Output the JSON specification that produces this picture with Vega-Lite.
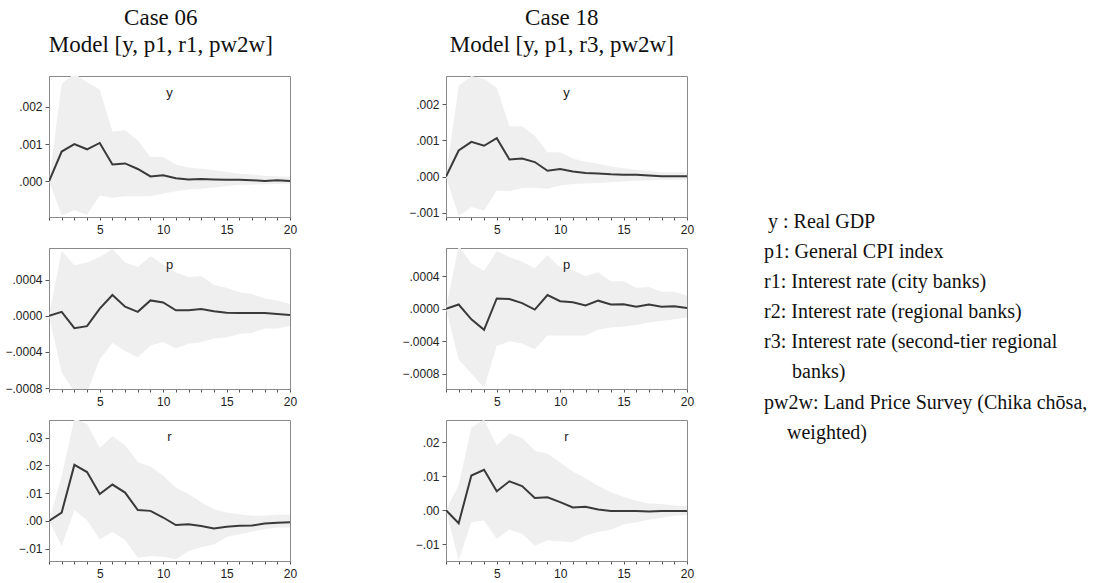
{
  "$schema": "https://vega.github.io/schema/vega-lite/v6.json",
  "padding": {"left": 4, "top": 6, "right": 0, "bottom": 0},
  "background": "white",
  "datasets": {
    "irf": [
      {"c":"06","v":"y","h":1,"irf":0,"lo":0,"hi":0},
      {"c":"06","v":"y","h":2,"irf":0.0008,"lo":-0.00092,"hi":0.00262},
      {"c":"06","v":"y","h":3,"irf":0.001,"lo":-0.00078,"hi":0.0029},
      {"c":"06","v":"y","h":4,"irf":0.00086,"lo":-0.0009,"hi":0.00266},
      {"c":"06","v":"y","h":5,"irf":0.00103,"lo":-0.00038,"hi":0.00246},
      {"c":"06","v":"y","h":6,"irf":0.00045,"lo":-0.00044,"hi":0.00134},
      {"c":"06","v":"y","h":7,"irf":0.00048,"lo":-0.0004,"hi":0.00137},
      {"c":"06","v":"y","h":8,"irf":0.00033,"lo":-0.0004,"hi":0.0011},
      {"c":"06","v":"y","h":9,"irf":0.00013,"lo":-0.0004,"hi":0.00065},
      {"c":"06","v":"y","h":10,"irf":0.00016,"lo":-0.00033,"hi":0.00065},
      {"c":"06","v":"y","h":11,"irf":0.00008,"lo":-0.00027,"hi":0.00045},
      {"c":"06","v":"y","h":12,"irf":0.00005,"lo":-0.00022,"hi":0.00037},
      {"c":"06","v":"y","h":13,"irf":0.00006,"lo":-0.0002,"hi":0.00034},
      {"c":"06","v":"y","h":14,"irf":0.00005,"lo":-0.00017,"hi":0.0003},
      {"c":"06","v":"y","h":15,"irf":0.00004,"lo":-0.00013,"hi":0.00025},
      {"c":"06","v":"y","h":16,"irf":0.00004,"lo":-0.0001,"hi":0.0002},
      {"c":"06","v":"y","h":17,"irf":0.00003,"lo":-0.00009,"hi":0.00018},
      {"c":"06","v":"y","h":18,"irf":0.00001,"lo":-0.00008,"hi":0.00015},
      {"c":"06","v":"y","h":19,"irf":0.00003,"lo":-0.00007,"hi":0.00013},
      {"c":"06","v":"y","h":20,"irf":0.00001,"lo":-0.00006,"hi":0.00012},
      {"c":"06","v":"p","h":1,"irf":0,"lo":0,"hi":0},
      {"c":"06","v":"p","h":2,"irf":0.000044,"lo":-0.00063,"hi":0.00072},
      {"c":"06","v":"p","h":3,"irf":-0.000137,"lo":-0.00084,"hi":0.00056},
      {"c":"06","v":"p","h":4,"irf":-0.000115,"lo":-0.00085,"hi":0.00059},
      {"c":"06","v":"p","h":5,"irf":0.00008,"lo":-0.00048,"hi":0.00065},
      {"c":"06","v":"p","h":6,"irf":0.00023,"lo":-0.0003,"hi":0.00074},
      {"c":"06","v":"p","h":7,"irf":0.0001,"lo":-0.00039,"hi":0.00059},
      {"c":"06","v":"p","h":8,"irf":0.000044,"lo":-0.00046,"hi":0.00054},
      {"c":"06","v":"p","h":9,"irf":0.00017,"lo":-0.00033,"hi":0.00066},
      {"c":"06","v":"p","h":10,"irf":0.000148,"lo":-0.00029,"hi":0.00057},
      {"c":"06","v":"p","h":11,"irf":0.00006,"lo":-0.00036,"hi":0.00048},
      {"c":"06","v":"p","h":12,"irf":0.00006,"lo":-0.00031,"hi":0.00043},
      {"c":"06","v":"p","h":13,"irf":0.000074,"lo":-0.00029,"hi":0.00044},
      {"c":"06","v":"p","h":14,"irf":0.00005,"lo":-0.00025,"hi":0.00034},
      {"c":"06","v":"p","h":15,"irf":0.000033,"lo":-0.00024,"hi":0.00031},
      {"c":"06","v":"p","h":16,"irf":0.00003,"lo":-0.0002,"hi":0.00026},
      {"c":"06","v":"p","h":17,"irf":0.00003,"lo":-0.00019,"hi":0.00024},
      {"c":"06","v":"p","h":18,"irf":0.00003,"lo":-0.00014,"hi":0.00019},
      {"c":"06","v":"p","h":19,"irf":0.00002,"lo":-0.00014,"hi":0.00017},
      {"c":"06","v":"p","h":20,"irf":0.00001,"lo":-0.00011,"hi":0.00013},
      {"c":"06","v":"r","h":1,"irf":0,"lo":0,"hi":0},
      {"c":"06","v":"r","h":2,"irf":0.003,"lo":-0.0091,"hi":0.016},
      {"c":"06","v":"r","h":3,"irf":0.0202,"lo":0.0039,"hi":0.037},
      {"c":"06","v":"r","h":4,"irf":0.0176,"lo":0.0002,"hi":0.035},
      {"c":"06","v":"r","h":5,"irf":0.0097,"lo":-0.0067,"hi":0.0264},
      {"c":"06","v":"r","h":6,"irf":0.0131,"lo":-0.004,"hi":0.0305},
      {"c":"06","v":"r","h":7,"irf":0.0102,"lo":-0.0069,"hi":0.0273},
      {"c":"06","v":"r","h":8,"irf":0.0039,"lo":-0.0133,"hi":0.0212},
      {"c":"06","v":"r","h":9,"irf":0.0036,"lo":-0.0127,"hi":0.0196},
      {"c":"06","v":"r","h":10,"irf":0.0012,"lo":-0.013,"hi":0.0164},
      {"c":"06","v":"r","h":11,"irf":-0.0015,"lo":-0.0139,"hi":0.0119},
      {"c":"06","v":"r","h":12,"irf":-0.0012,"lo":-0.0109,"hi":0.0097},
      {"c":"06","v":"r","h":13,"irf":-0.0019,"lo":-0.0095,"hi":0.0067},
      {"c":"06","v":"r","h":14,"irf":-0.0028,"lo":-0.0085,"hi":0.0042},
      {"c":"06","v":"r","h":15,"irf":-0.0021,"lo":-0.0058,"hi":0.003},
      {"c":"06","v":"r","h":16,"irf":-0.0018,"lo":-0.0048,"hi":0.0024},
      {"c":"06","v":"r","h":17,"irf":-0.0017,"lo":-0.0039,"hi":0.0018},
      {"c":"06","v":"r","h":18,"irf":-0.001,"lo":-0.003,"hi":0.0018},
      {"c":"06","v":"r","h":19,"irf":-0.0007,"lo":-0.0024,"hi":0.0022},
      {"c":"06","v":"r","h":20,"irf":-0.0005,"lo":-0.0024,"hi":0.0022},
      {"c":"18","v":"y","h":1,"irf":0,"lo":0,"hi":0},
      {"c":"18","v":"y","h":2,"irf":0.00072,"lo":-0.00109,"hi":0.0025},
      {"c":"18","v":"y","h":3,"irf":0.00096,"lo":-0.00084,"hi":0.00278},
      {"c":"18","v":"y","h":4,"irf":0.00085,"lo":-0.00094,"hi":0.0027},
      {"c":"18","v":"y","h":5,"irf":0.00106,"lo":-0.00039,"hi":0.00246},
      {"c":"18","v":"y","h":6,"irf":0.00047,"lo":-0.00041,"hi":0.00139},
      {"c":"18","v":"y","h":7,"irf":0.0005,"lo":-0.00032,"hi":0.00139},
      {"c":"18","v":"y","h":8,"irf":0.0004,"lo":-0.00031,"hi":0.00113},
      {"c":"18","v":"y","h":9,"irf":0.00016,"lo":-0.00034,"hi":0.00067},
      {"c":"18","v":"y","h":10,"irf":0.00021,"lo":-0.00025,"hi":0.00067},
      {"c":"18","v":"y","h":11,"irf":0.00014,"lo":-0.00021,"hi":0.0005},
      {"c":"18","v":"y","h":12,"irf":0.0001,"lo":-0.00019,"hi":0.00041},
      {"c":"18","v":"y","h":13,"irf":0.00008,"lo":-0.00018,"hi":0.00035},
      {"c":"18","v":"y","h":14,"irf":0.00006,"lo":-0.00016,"hi":0.00028},
      {"c":"18","v":"y","h":15,"irf":0.00005,"lo":-0.00014,"hi":0.00023},
      {"c":"18","v":"y","h":16,"irf":0.00005,"lo":-0.00012,"hi":0.00019},
      {"c":"18","v":"y","h":17,"irf":0.00003,"lo":-0.00011,"hi":0.00016},
      {"c":"18","v":"y","h":18,"irf":0.00001,"lo":-0.0001,"hi":0.00012},
      {"c":"18","v":"y","h":19,"irf":0.00001,"lo":-0.00009,"hi":0.00012},
      {"c":"18","v":"y","h":20,"irf":0.00001,"lo":-0.00008,"hi":0.00012},
      {"c":"18","v":"p","h":1,"irf":0,"lo":0,"hi":0},
      {"c":"18","v":"p","h":2,"irf":0.000053,"lo":-0.00063,"hi":0.00078},
      {"c":"18","v":"p","h":3,"irf":-0.00013,"lo":-0.0008,"hi":0.00056},
      {"c":"18","v":"p","h":4,"irf":-0.00026,"lo":-0.00098,"hi":0.00047},
      {"c":"18","v":"p","h":5,"irf":0.000127,"lo":-0.00046,"hi":0.00071},
      {"c":"18","v":"p","h":6,"irf":0.00012,"lo":-0.0004,"hi":0.00064},
      {"c":"18","v":"p","h":7,"irf":0.00007,"lo":-0.00043,"hi":0.00058},
      {"c":"18","v":"p","h":8,"irf":-0.00001,"lo":-0.0005,"hi":0.0005},
      {"c":"18","v":"p","h":9,"irf":0.00017,"lo":-0.00033,"hi":0.00066},
      {"c":"18","v":"p","h":10,"irf":0.000094,"lo":-0.00033,"hi":0.00051},
      {"c":"18","v":"p","h":11,"irf":0.00008,"lo":-0.00033,"hi":0.00048},
      {"c":"18","v":"p","h":12,"irf":0.00004,"lo":-0.00033,"hi":0.0004},
      {"c":"18","v":"p","h":13,"irf":0.0001,"lo":-0.00026,"hi":0.00045},
      {"c":"18","v":"p","h":14,"irf":0.000053,"lo":-0.00023,"hi":0.00034},
      {"c":"18","v":"p","h":15,"irf":0.000057,"lo":-0.00022,"hi":0.00034},
      {"c":"18","v":"p","h":16,"irf":0.000025,"lo":-0.0002,"hi":0.00026},
      {"c":"18","v":"p","h":17,"irf":0.000053,"lo":-0.00017,"hi":0.00027},
      {"c":"18","v":"p","h":18,"irf":0.000025,"lo":-0.00015,"hi":0.00021},
      {"c":"18","v":"p","h":19,"irf":0.00003,"lo":-0.00013,"hi":0.00021},
      {"c":"18","v":"p","h":20,"irf":0.00001,"lo":-0.00011,"hi":0.00016},
      {"c":"18","v":"r","h":1,"irf":0,"lo":0,"hi":0},
      {"c":"18","v":"r","h":2,"irf":-0.0038,"lo":-0.0147,"hi":0.0074},
      {"c":"18","v":"r","h":3,"irf":0.0102,"lo":-0.0035,"hi":0.0243},
      {"c":"18","v":"r","h":4,"irf":0.0119,"lo":-0.003,"hi":0.0266},
      {"c":"18","v":"r","h":5,"irf":0.0056,"lo":-0.0084,"hi":0.019},
      {"c":"18","v":"r","h":6,"irf":0.0085,"lo":-0.0057,"hi":0.0226},
      {"c":"18","v":"r","h":7,"irf":0.0071,"lo":-0.0069,"hi":0.0212},
      {"c":"18","v":"r","h":8,"irf":0.0036,"lo":-0.0104,"hi":0.0175},
      {"c":"18","v":"r","h":9,"irf":0.0038,"lo":-0.0089,"hi":0.0166},
      {"c":"18","v":"r","h":10,"irf":0.0024,"lo":-0.0091,"hi":0.014},
      {"c":"18","v":"r","h":11,"irf":0.0008,"lo":-0.0094,"hi":0.0114},
      {"c":"18","v":"r","h":12,"irf":0.001,"lo":-0.0074,"hi":0.0094},
      {"c":"18","v":"r","h":13,"irf":0.0002,"lo":-0.0064,"hi":0.0071},
      {"c":"18","v":"r","h":14,"irf":-0.0002,"lo":-0.0057,"hi":0.0053},
      {"c":"18","v":"r","h":15,"irf":-0.0002,"lo":-0.0042,"hi":0.004},
      {"c":"18","v":"r","h":16,"irf":-0.0002,"lo":-0.0035,"hi":0.0028},
      {"c":"18","v":"r","h":17,"irf":-0.0004,"lo":-0.0028,"hi":0.002},
      {"c":"18","v":"r","h":18,"irf":-0.0002,"lo":-0.0022,"hi":0.0018},
      {"c":"18","v":"r","h":19,"irf":-0.0002,"lo":-0.0016,"hi":0.0014},
      {"c":"18","v":"r","h":20,"irf":-0.0002,"lo":-0.0014,"hi":0.0012}
    ],
    "legend": [
      {"n":1,"t":"y : Real GDP"},
      {"n":2,"t":"p1: General CPI index"},
      {"n":3,"t":"r1: Interest rate (city banks)"},
      {"n":4,"t":"r2: Interest rate (regional banks)"},
      {"n":5,"t":"r3: Interest rate (second-tier regional"},
      {"n":6,"t":"banks)"},
      {"n":7,"t":"pw2w: Land Price Survey (Chika chōsa,"},
      {"n":8,"t":"weighted)"}
    ]
  },
  "config": {
    "view": {"stroke": "#8a8a8a", "strokeWidth": 1},
    "axis": {"grid": false, "domainColor": "#8a8a8a", "tickColor": "#555555", "tickSize": 4, "labelFont": "Liberation Sans", "labelFontSize": 12, "labelColor": "#222222", "labelPadding": 3, "title": null, "labelOverlap": false}
  },
  "hconcat": [
    {
      "hconcat": [
        {
          "title": {"text": ["Case 06", "Model [y, p1, r1, pw2w]"], "font": "Liberation Serif", "fontSize": 23, "fontWeight": "normal", "color": "#111111", "lineHeight": 27, "anchor": "middle", "offset": 19, "dx": 10},
          "spacing": 11,
          "vconcat": [
            {
              "width": 241, "height": 141,
              "title": {"text": "y", "font": "Liberation Sans", "fontSize": 13, "fontWeight": "normal", "color": "#222222", "offset": -24, "anchor": "middle"},
              "data": {"name": "irf"},
              "transform": [{"filter": "datum.c == '06' && datum.v == 'y'"}],
              "encoding": {"x": {"field": "h", "type": "quantitative", "scale": {"domain": [1, 20], "nice": false}, "axis": {"values": [1,2,3,4,5,6,7,8,9,10,11,12,13,14,15,16,17,18,19,20], "labelExpr": "datum.value % 5 == 0 ? datum.label : ''", "tickSize": 3, "labelFlush": false, "labelOverlap": false, "labelPadding": 4}}},
              "layer": [
                {"mark": {"type": "area", "color": "#efefef", "clip": true}, "encoding": {"y": {"field": "lo", "type": "quantitative", "scale": {"domain": [-0.00096, 0.00283], "nice": false, "zero": false}, "axis": {"values": [0, 0.001, 0.002], "format": ".3f", "labelOverlap": false, "labelExpr": "replace(datum.label, '0.', '.')"}}, "y2": {"field": "hi"}}},
                {"mark": {"type": "line", "color": "#3a3a3a", "strokeWidth": 2, "clip": true}, "encoding": {"y": {"field": "irf", "type": "quantitative"}}}
              ]
            },
            {
              "width": 241, "height": 141,
              "title": {"text": "p", "font": "Liberation Sans", "fontSize": 13, "fontWeight": "normal", "color": "#222222", "offset": -24, "anchor": "middle"},
              "data": {"name": "irf"},
              "transform": [{"filter": "datum.c == '06' && datum.v == 'p'"}],
              "encoding": {"x": {"field": "h", "type": "quantitative", "scale": {"domain": [1, 20], "nice": false}, "axis": {"values": [1,2,3,4,5,6,7,8,9,10,11,12,13,14,15,16,17,18,19,20], "labelExpr": "datum.value % 5 == 0 ? datum.label : ''", "tickSize": 3, "labelFlush": false, "labelOverlap": false, "labelPadding": 4}}},
              "layer": [
                {"mark": {"type": "area", "color": "#efefef", "clip": true}, "encoding": {"y": {"field": "lo", "type": "quantitative", "scale": {"domain": [-0.00081, 0.00075], "nice": false, "zero": false}, "axis": {"values": [-0.0008, -0.0004, 0, 0.0004], "format": ".4f", "labelOverlap": false, "labelExpr": "replace(datum.label, '0.', '.')"}}, "y2": {"field": "hi"}}},
                {"mark": {"type": "line", "color": "#3a3a3a", "strokeWidth": 2, "clip": true}, "encoding": {"y": {"field": "irf", "type": "quantitative"}}}
              ]
            },
            {
              "width": 241, "height": 141,
              "title": {"text": "r", "font": "Liberation Sans", "fontSize": 13, "fontWeight": "normal", "color": "#222222", "offset": -24, "anchor": "middle"},
              "data": {"name": "irf"},
              "transform": [{"filter": "datum.c == '06' && datum.v == 'r'"}],
              "encoding": {"x": {"field": "h", "type": "quantitative", "scale": {"domain": [1, 20], "nice": false}, "axis": {"values": [1,2,3,4,5,6,7,8,9,10,11,12,13,14,15,16,17,18,19,20], "labelExpr": "datum.value % 5 == 0 ? datum.label : ''", "tickSize": 3, "labelFlush": false, "labelOverlap": false, "labelPadding": 4}}},
              "layer": [
                {"mark": {"type": "area", "color": "#efefef", "clip": true}, "encoding": {"y": {"field": "lo", "type": "quantitative", "scale": {"domain": [-0.0145, 0.0364], "nice": false, "zero": false}, "axis": {"tickCount": 6, "labelOverlap": false, "labelExpr": "replace(format(datum.value, '.2f'), '0.', '.')"}}, "y2": {"field": "hi"}}},
                {"mark": {"type": "line", "color": "#3a3a3a", "strokeWidth": 2, "clip": true}, "encoding": {"y": {"field": "irf", "type": "quantitative"}}}
              ]
            }
          ]
        },
        {
          "title": {"text": ["Case 18", "Model [y, p1, r3, pw2w]"], "font": "Liberation Serif", "fontSize": 23, "fontWeight": "normal", "color": "#111111", "lineHeight": 27, "anchor": "middle", "offset": 19, "dx": 14},
          "spacing": 11,
          "vconcat": [
            {
              "width": 241, "height": 141,
              "title": {"text": "y", "font": "Liberation Sans", "fontSize": 13, "fontWeight": "normal", "color": "#222222", "offset": -24, "anchor": "middle"},
              "data": {"name": "irf"},
              "transform": [{"filter": "datum.c == '18' && datum.v == 'y'"}],
              "encoding": {"x": {"field": "h", "type": "quantitative", "scale": {"domain": [1, 20], "nice": false}, "axis": {"values": [1,2,3,4,5,6,7,8,9,10,11,12,13,14,15,16,17,18,19,20], "labelExpr": "datum.value % 5 == 0 ? datum.label : ''", "tickSize": 3, "labelFlush": false, "labelOverlap": false, "labelPadding": 4}}},
              "layer": [
                {"mark": {"type": "area", "color": "#efefef", "clip": true}, "encoding": {"y": {"field": "lo", "type": "quantitative", "scale": {"domain": [-0.00112, 0.00278], "nice": false, "zero": false}, "axis": {"values": [-0.001, 0, 0.001, 0.002], "format": ".3f", "labelOverlap": false, "labelExpr": "replace(datum.label, '0.', '.')"}}, "y2": {"field": "hi"}}},
                {"mark": {"type": "line", "color": "#3a3a3a", "strokeWidth": 2, "clip": true}, "encoding": {"y": {"field": "irf", "type": "quantitative"}}}
              ]
            },
            {
              "width": 241, "height": 141,
              "title": {"text": "p", "font": "Liberation Sans", "fontSize": 13, "fontWeight": "normal", "color": "#222222", "offset": -24, "anchor": "middle"},
              "data": {"name": "irf"},
              "transform": [{"filter": "datum.c == '18' && datum.v == 'p'"}],
              "encoding": {"x": {"field": "h", "type": "quantitative", "scale": {"domain": [1, 20], "nice": false}, "axis": {"values": [1,2,3,4,5,6,7,8,9,10,11,12,13,14,15,16,17,18,19,20], "labelExpr": "datum.value % 5 == 0 ? datum.label : ''", "tickSize": 3, "labelFlush": false, "labelOverlap": false, "labelPadding": 4}}},
              "layer": [
                {"mark": {"type": "area", "color": "#efefef", "clip": true}, "encoding": {"y": {"field": "lo", "type": "quantitative", "scale": {"domain": [-0.00099, 0.00075], "nice": false, "zero": false}, "axis": {"values": [-0.0008, -0.0004, 0, 0.0004], "format": ".4f", "labelOverlap": false, "labelExpr": "replace(datum.label, '0.', '.')"}}, "y2": {"field": "hi"}}},
                {"mark": {"type": "line", "color": "#3a3a3a", "strokeWidth": 2, "clip": true}, "encoding": {"y": {"field": "irf", "type": "quantitative"}}}
              ]
            },
            {
              "width": 241, "height": 141,
              "title": {"text": "r", "font": "Liberation Sans", "fontSize": 13, "fontWeight": "normal", "color": "#222222", "offset": -24, "anchor": "middle"},
              "data": {"name": "irf"},
              "transform": [{"filter": "datum.c == '18' && datum.v == 'r'"}],
              "encoding": {"x": {"field": "h", "type": "quantitative", "scale": {"domain": [1, 20], "nice": false}, "axis": {"values": [1,2,3,4,5,6,7,8,9,10,11,12,13,14,15,16,17,18,19,20], "labelExpr": "datum.value % 5 == 0 ? datum.label : ''", "tickSize": 3, "labelFlush": false, "labelOverlap": false, "labelPadding": 4}}},
              "layer": [
                {"mark": {"type": "area", "color": "#efefef", "clip": true}, "encoding": {"y": {"field": "lo", "type": "quantitative", "scale": {"domain": [-0.0149, 0.0265], "nice": false, "zero": false}, "axis": {"values": [-0.01, 0, 0.01, 0.02], "format": ".2f", "labelOverlap": false, "labelExpr": "replace(datum.label, '0.', '.')"}}, "y2": {"field": "hi"}}},
                {"mark": {"type": "line", "color": "#3a3a3a", "strokeWidth": 2, "clip": true}, "encoding": {"y": {"field": "irf", "type": "quantitative"}}}
              ]
            }
          ]
        }
      ],
      "spacing": 103
    },
    {
      "width": 340, "height": 480,
      "view": {"stroke": null},
      "data": {"name": "legend"},
      "encoding": {
        "x": {"datum": 0, "type": "quantitative", "scale": {"domain": [0, 1]}, "axis": null},
        "y": {"field": "n", "type": "quantitative", "scale": {"domain": [-3.85, 12.1], "nice": false, "zero": false, "reverse": true}, "axis": null},
        "text": {"field": "t"}
      },
      "layer": [
        {"transform": [{"filter": "datum.n != 1 && datum.n != 6 && datum.n != 8"}], "mark": {"type": "text", "align": "left", "baseline": "middle", "font": "Liberation Serif", "fontSize": 20, "color": "#111111"}},
        {"transform": [{"filter": "datum.n == 1"}], "mark": {"type": "text", "align": "left", "baseline": "middle", "font": "Liberation Serif", "fontSize": 20, "color": "#111111", "dx": 4}},
        {"transform": [{"filter": "datum.n == 6"}], "mark": {"type": "text", "align": "left", "baseline": "middle", "font": "Liberation Serif", "fontSize": 20, "color": "#111111", "dx": 28}},
        {"transform": [{"filter": "datum.n == 8"}], "mark": {"type": "text", "align": "left", "baseline": "middle", "font": "Liberation Serif", "fontSize": 20, "color": "#111111", "dx": 23}}
      ]
    }
  ],
  "spacing": 69
}
